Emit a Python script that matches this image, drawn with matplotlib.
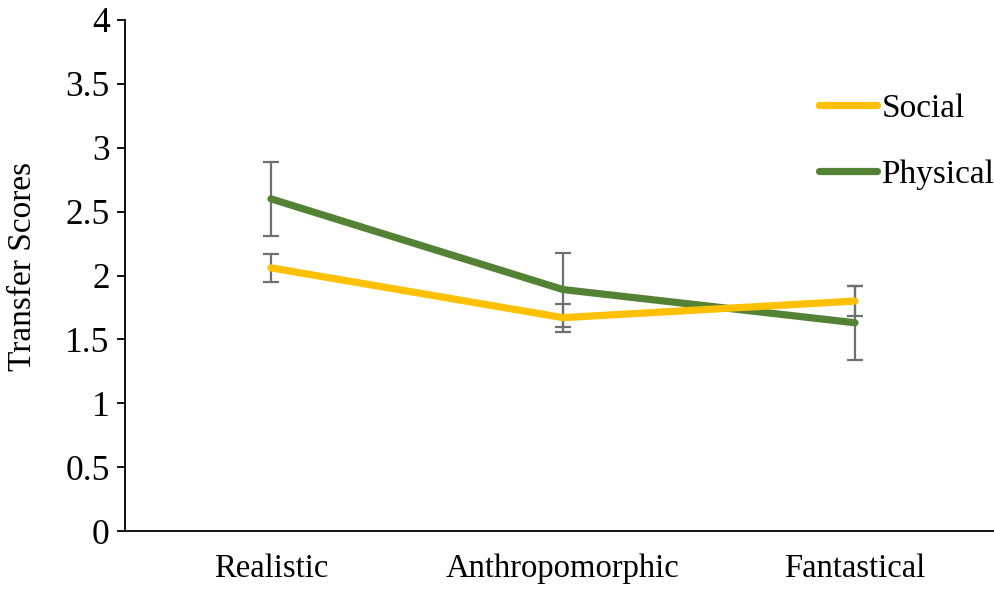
import matplotlib
matplotlib.use("Agg")
import matplotlib.pyplot as plt
import numpy as np

# Datos
categorias = ["Realistic", "Anthropomorphic", "Fantastical"]
social = [2.06, 1.67, 1.80]
social_err = [0.11, 0.11, 0.12]
physical = [2.60, 1.89, 1.63]
physical_err = [0.29, 0.29, 0.29]

plt.rcParams['font.family'] = ['Liberation Serif', 'DejaVu Serif']

fig = plt.figure(figsize=(9.95, 5.9), dpi=100)
ax = fig.add_axes([125 / 995, 59 / 590, 870 / 995, 511 / 590])

x = np.arange(len(categorias))

# Barras de error (detras de las lineas)
ax.errorbar(x, social, yerr=social_err, fmt='none', ecolor='#6f6f6f',
            elinewidth=1.6, capsize=6, capthick=1.6, zorder=1)
ax.errorbar(x, physical, yerr=physical_err, fmt='none', ecolor='#6f6f6f',
            elinewidth=1.6, capsize=6, capthick=1.6, zorder=1)

ax.plot(x, social, color='#ffc000', lw=5.2, solid_capstyle='round',
        label='Social', zorder=3)
ax.plot(x, physical, color='#548235', lw=5.2, solid_capstyle='round',
        label='Physical', zorder=2)

ax.set_xlim(-0.5, (995 - 271) / 292)
ax.set_ylim(0, 4)
ax.set_xticks(x)
ax.set_xticklabels(categorias, fontsize=23.5)
ax.set_yticks(np.arange(0, 4.01, 0.5))
ax.set_yticklabels(["0", "0.5", "1", "1.5", "2", "2.5", "3", "3.5", "4"], fontsize=25.5)
ax.tick_params(axis='x', length=0, pad=16)
ax.tick_params(axis='y', length=6, width=1.3, pad=5)
ax.set_ylabel("Transfer Scores", fontsize=24)
ax.yaxis.set_label_coords(-0.1, 0.517)

for lado in ['top', 'right']:
    ax.spines[lado].set_visible(False)
for lado in ['left', 'bottom']:
    ax.spines[lado].set_linewidth(1.3)

leg = ax.legend(loc='upper left', bbox_to_anchor=(819 / 995, 1 - 93 / 590),
                bbox_transform=fig.transFigure, frameon=False, fontsize=24,
                handlelength=1.75, handletextpad=0.12, labelspacing=1.08,
                borderpad=0, borderaxespad=0)

fig.savefig("out.png", dpi=100)
